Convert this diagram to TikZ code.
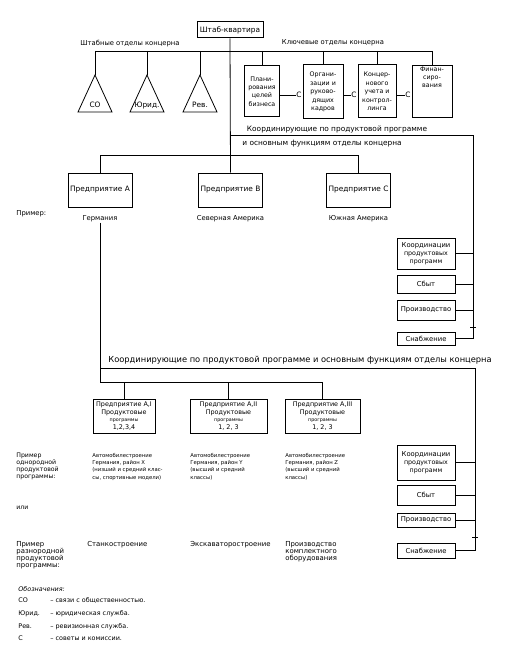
\documentclass[tikz,border=0pt]{standalone}
\usepackage{fontspec}
\setmainfont{DejaVu Sans}
\usetikzlibrary{positioning}

\newcommand\hdrf{\fontsize{6.8}{8}\selectfont}
\newcommand\bigf{\fontsize{7.4}{8.5}\selectfont}
\newcommand\boxf{\fontsize{6.3}{8.4}\selectfont}
\newcommand\subf{\fontsize{6.4}{7.4}\selectfont}
\newcommand\notef{\fontsize{5.3}{7.2}\selectfont}
\newcommand\exf{\fontsize{6.2}{7}\selectfont}
\newcommand\rowf{\fontsize{6.9}{6.9}\selectfont}
\newcommand\legf{\fontsize{6.4}{7.4}\selectfont}
\newcommand\tinyf{\fontsize{4.8}{6}\selectfont}

\tikzset{
  unitbox/.style={draw, line width=1pt, align=center, inner sep=1pt, font=\boxf},
  sidebox/.style={unitbox, minimum width=58pt, font=\hdrf},
  hdr/.style={inner sep=0pt, font=\hdrf},
  note/.style={inner sep=0pt, align=left, font=\notef},
  link/.style={line width=0.8pt},
}

\begin{document}
\begin{tikzpicture}[x=1pt, y=-1pt, line width=0.8pt]
        \useasboundingbox (0,0) rectangle (506,650);
        % Headquarters and the line to the departments
        \node[unitbox, minimum width=66pt, minimum height=16pt, font=\bigf] (hq) at (230,30) {Штаб-квартира};
        \node[hdr] (staff) at (130,44) {Штабные отделы концерна};
        \node[hdr] (keyd) at (333,43) {Ключевые отделы концерна};
        \coordinate (busL) at (95,51);
        \coordinate (busR) at (433,51);
        \draw[link] (busL) -- (busR);
        % Staff departments (triangles)
        \foreach \x/\name/\lbl in {95/so/СО, 147/jur/Юрид., 200/rev/Рев.} {
          \coordinate (\name) at (\x,75);
          \draw[link] (\name) -- ++(-17,37) -- ++(34,0) -- cycle;
          \node[font=\bigf, inner sep=0pt, anchor=base] (\name lbl) at (\x,107) {\lbl};
          \draw[link] (\name |- busL) -- (\name);
        }
        % Key departments
        \node[unitbox, minimum width=35pt, minimum height=51pt] (plan) at (262,91.5) {Плани-\\рования\\целей\\бизнеса};
        \node[unitbox, minimum width=40pt, minimum height=54pt] (org) at (323,92) {Органи-\\зации и\\руково-\\дящих\\кадров};
        \node[unitbox, minimum width=38pt, minimum height=53pt] (ctrl) at (377,91.5) {Концер-\\нового\\учета и\\контрол-\\линга};
        \node[unitbox, minimum width=40pt, text depth=29pt, anchor=north] (fin) at (432,65) {Финан-\\сиро-\\вания};
        \foreach \b in {plan,org,ctrl,fin}
          \draw[link] (\b.north |- busL) -- (\b.north);
        % Councils between the key departments
        \node[hdr, anchor=east, font=\bigf] (c1) at (302,95) {С};
        \node[hdr, anchor=east, font=\bigf] (c2) at (357,95) {С};
        \node[hdr, anchor=east, font=\bigf] (c3) at (411,95) {С};
        \draw[link] (c1.west) -- (c1.west -| plan.east);
        \draw[link] (c2.west) -- (c2.west -| org.east);
        \draw[link] (c3.west) -- (c3.west -| ctrl.east);
        % Enterprises A, B, C
        \node[unitbox, minimum width=64pt, minimum height=34pt, font=\bigf] (entA) at (100,190) {Предприятие A};
        \node[unitbox, minimum width=64pt, minimum height=34pt, font=\bigf] (entB) at (230.5,190) {Предприятие B};
        \node[unitbox, minimum width=64pt, minimum height=34pt, font=\bigf] (entC) at (358.5,190) {Предприятие C};
        \node[hdr] (geoA) at (100,219) {Германия};
        \node[hdr] (geoB) at (230.5,219) {Северная Америка};
        \node[hdr] (geoC) at (358.5,219) {Южная Америка};
        \node[hdr, anchor=west] (ex1) at (16,214) {Пример:};
        \coordinate (eb) at (0,155);
        \draw[link] (hq.south) -- (entB.north);
        \draw[link] (entA.north) |- (entC.north |- eb) -- (entC.north);
        % Coordination, upper level
        \node[hdr, anchor=south, font=\bigf] (kt1) at (337,133) {Координирующие по продуктовой программе};
        \node[hdr, anchor=west, font=\bigf] (kt2) at (242,144) {и основным функциям отделы концерна};
        \coordinate (k1) at (hq.south |- 0,135);
        \coordinate (k1r) at (473,135);
        \node[sidebox, minimum height=31pt] (coord1) at (426,253.5) {Координации\\{\boxf продуктовых}\\{\boxf программ}};
        \node[sidebox, minimum height=18pt] (sbyt1) at (426,284) {Сбыт};
        \node[sidebox, minimum height=20pt] (proiz1) at (426,310) {Производство};
        \node[sidebox, minimum height=13pt] (snab1) at (426,338.5) {Снабжение};
        \draw[link] (k1) -- (k1r) |- (snab1.east);
        \foreach \b in {coord1,sbyt1,proiz1}
          \draw[link] (\b.east) -- (\b.east -| k1r);
        \coordinate (brk1) at (k1r |- 0,327);
        \draw[link] ([xshift=-3pt]brk1) -- ([xshift=3pt]brk1);
        % Coordination, lower level
        \node[hdr, anchor=south west, font=\fontsize{8.3}{9}\selectfont] (kt3) at (108,365) {Координирующие по продуктовой программе и основным функциям отделы концерна};
        \coordinate (k2) at (100,368);
        \coordinate (k2r) at (475,368);
        \coordinate (b2) at (100,382);
        \node[sidebox, minimum height=35pt] (coord2) at (426,462.5) {Координации\\{\boxf продуктовых}\\{\boxf программ}};
        \node[sidebox, minimum height=20pt] (sbyt2) at (426,495) {Сбыт};
        \node[sidebox, minimum height=14pt] (proiz2) at (426,520) {Производство};
        \node[sidebox, minimum height=15pt] (snab2) at (426,550.5) {Снабжение};
        \draw[link] (k2) -- (k2r) |- (snab2.east);
        \foreach \b in {coord2,sbyt2,proiz2}
          \draw[link] (\b.east) -- (\b.east -| k2r);
        \coordinate (brk2) at (k2r |- 0,537);
        \draw[link] ([xshift=-3pt]brk2) -- ([xshift=3pt]brk2);
        % Sub-enterprises of A
        \node[unitbox, minimum width=62pt, minimum height=34pt, font=\subf] (sub1) at (124,416) {Предприятие A,I\\Продуктовые\\{\tinyf программы}\\1,2,3,4};
        \node[unitbox, minimum width=77pt, minimum height=34pt, font=\subf] (sub2) at (228.5,416) {Предприятие A,II\\Продуктовые\\{\tinyf программы}\\1, 2, 3};
        \node[unitbox, minimum width=75pt, minimum height=34pt, font=\subf] (sub3) at (322.5,416) {Предприятие A,III\\Продуктовые\\{\tinyf программы}\\1, 2, 3};
        \draw[link] (geoA.south) -- (b2) -| (sub3.north);
        \draw[link] (sub1.north |- b2) -- (sub1.north);
        \draw[link] (sub2.north |- b2) -- (sub2.north);
        % Examples of product programmes
        \node[note, anchor=north west, font=\exf] (one) at (16,453) {Пример\\однородной\\продуктовой\\программы:};
        \node[note, anchor=north west] (auto1) at (92,453) {Автомобилестроение\\Германия, район X\\(низший и средний клас-\\сы, спортивные модели)};
        \node[note, anchor=north west] (auto2) at (190,453) {Автомобилестроение\\Германия, район Y\\(высший и средний\\классы)};
        \node[note, anchor=north west] (auto3) at (285,453) {Автомобилестроение\\Германия, район Z\\(высший и средний\\классы)};
        \node[note, anchor=west, font=\exf] (orr) at (16,508) {или};
        \node[note, anchor=north west, font=\rowf] (two) at (16,541) {Пример\\разнородной\\продуктовой\\программы:};
        \node[note, anchor=north west, font=\rowf] (mach) at (87,541) {Станкостроение};
        \node[note, anchor=north west, font=\rowf] (exc) at (190,541) {Экскаваторостроение};
        \node[note, anchor=north west, font=\rowf] (equip) at (285,541) {Производство\\комплектного\\оборудования};
        % Legend
        \node[note, anchor=base west, font=\legf\itshape] (leg) at (18,591) {Обозначения:};
        \foreach \y/\ab/\txt in {602/СО/связи с общественностью., 615/Юрид./юридическая служба., 628/Рев./ревизионная служба., 640/С/советы и комиссии.} {
          \node[note, anchor=base west, font=\legf] at (18,\y) {\ab};
          \node[note, anchor=base west, font=\legf] at (50,\y) {– \txt};
        }
      \end{tikzpicture}
\end{document}
